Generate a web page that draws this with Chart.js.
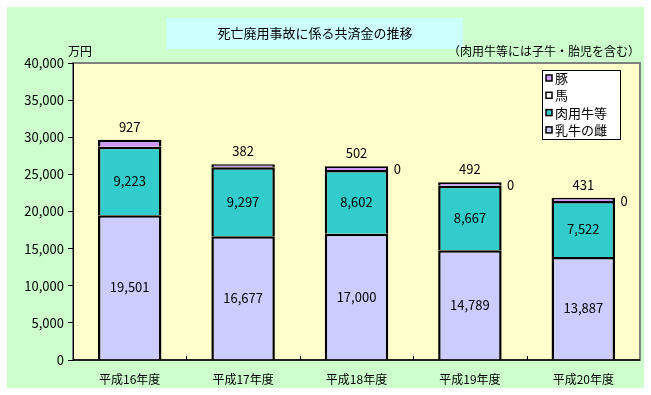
<!DOCTYPE html>
<html>
<head>
<meta charset="utf-8">
<script src="https://cdn.jsdelivr.net/npm/chart.js@4"></script>
<style>
  html, body { margin: 0; padding: 0; background: #ffffff; }
  #wrap { width: 651px; height: 395px; position: relative; }
</style>
</head>
<body>
<div id="wrap"><canvas id="chart" width="651" height="395"></canvas></div>
<script>
// --- data ---
const years = ['平成16年度', '平成17年度', '平成18年度', '平成19年度', '平成20年度'];
const dairyCow = [19501, 16677, 17000, 14789, 13887];   // 乳牛の雌
const beefCattle = [9223, 9297, 8602, 8667, 7522];      // 肉用牛等
const pigs = [927, 382, 502, 492, 431];                 // 豚
const horses = [null, null, 0, 0, 0];                   // 馬
const yTicks = [0, 5000, 10000, 15000, 20000, 25000, 30000, 35000, 40000];

const FONT = '"Noto Sans CJK JP", "DejaVu Sans", sans-serif';
const fmt = v => v.toLocaleString('en-US');

// background, title box, unit notes
const backdrop = {
    id: 'backdrop',
    beforeDraw(chart) {
        const c = chart.ctx;
        const a = chart.chartArea;
        c.save();
        c.fillStyle = '#ccffcc';
        c.fillRect(7, 7, 637, 381);
        c.fillStyle = '#ffffcc';
        c.fillRect(a.left, a.top, a.right - a.left, a.bottom - a.top);
        c.strokeStyle = '#808080';
        c.lineWidth = 2;
        c.strokeRect(a.left, a.top, a.right - a.left, a.bottom - a.top);

        c.fillStyle = '#ccffff';
        c.fillRect(166, 18, 297, 31);
        c.fillStyle = '#000';
        c.font = '13px ' + FONT;
        c.textAlign = 'center';
        c.textBaseline = 'middle';
        c.fillText('死亡廃用事故に係る共済金の推移', 315, 33);

        c.font = '12px ' + FONT;
        c.textAlign = 'left';
        c.fillText('万円', 68, 51);
        c.textAlign = 'right';
        c.fillText('（肉用牛等には子牛・胎児を含む）', 640, 51);
        c.restore();
    },
    afterDraw(chart) {
        const c = chart.ctx;
        const a = chart.chartArea;
        const x = chart.scales.x;
        c.save();
        // axis line
        c.strokeStyle = '#000';
        c.lineWidth = 1.5;
        c.beginPath();
        c.moveTo(a.left, a.bottom);
        c.lineTo(a.right, a.bottom);
        c.stroke();
        // small tick marks between categories
        c.lineWidth = 1;
        for (let i = 0; i < years.length - 1; i++) {
            const px = Math.round((x.getPixelForTick(i) + x.getPixelForTick(i + 1)) / 2) + 0.5;
            c.beginPath();
            c.moveTo(px, a.bottom);
            c.lineTo(px, a.bottom - 4);
            c.stroke();
        }

        // data labels
        c.fillStyle = '#000';
        c.font = '13px ' + FONT;
        c.textAlign = 'center';
        c.textBaseline = 'middle';
        [0, 1].forEach(di => {
            const meta = chart.getDatasetMeta(di);
            meta.data.forEach((bar, i) => {
                const v = chart.data.datasets[di].data[i];
                c.fillText(fmt(v), bar.x, (bar.y + bar.base) / 2);
            });
        });
        const pigMeta = chart.getDatasetMeta(2);
        pigMeta.data.forEach((bar, i) => {
            c.fillText(fmt(pigs[i]), bar.x, bar.y - 13);
        });
        const horseMeta = chart.getDatasetMeta(3);
        horseMeta.data.forEach((bar, i) => {
            if (horses[i] === null) return;
            c.fillText(fmt(horses[i]), bar.x + bar.width / 2 + 9, bar.y + 3);
        });

        // legend box
        c.fillStyle = '#fff';
        c.fillRect(542, 70, 79, 70);
        c.strokeStyle = '#000';
        c.lineWidth = 1;
        c.strokeRect(542.5, 70.5, 78, 69);
        const items = [2, 3, 1, 0].map(i => chart.data.datasets[i]);
        c.font = '13px ' + FONT;
        c.textAlign = 'left';
        items.forEach((ds, k) => {
            const cy = 78 + k * 17.3;
            c.fillStyle = ds.backgroundColor;
            c.fillRect(546, cy - 3, 6, 6);
            c.strokeStyle = '#000';
            c.lineWidth = 1.5;
            c.strokeRect(546, cy - 3, 6, 6);
            c.fillStyle = '#000';
            c.fillText(ds.label, 555, cy);
        });
        c.restore();
    }
};

const common = {
    borderColor: '#000000',
    borderWidth: 2.5,
    borderSkipped: 'start',
    barPercentage: 0.7,
    categoryPercentage: 0.8
};

new Chart(document.getElementById('chart'), {
    type: 'bar',
    data: {
        labels: years,
        datasets: [
            { label: '乳牛の雌', data: dairyCow, backgroundColor: '#ccccff', ...common },
            { label: '肉用牛等', data: beefCattle, backgroundColor: '#33cccc', ...common },
            { label: '豚', data: pigs, backgroundColor: '#cc99ff', ...common },
            { label: '馬', data: horses, backgroundColor: '#ffffff', ...common, borderWidth: 0 }
        ]
    },
    options: {
        responsive: false,
        animation: false,
        layout: { padding: { left: 0, right: 11, top: 63, bottom: 0 } },
        plugins: {
            legend: { display: false },
            tooltip: { enabled: false }
        },
        scales: {
            x: {
                stacked: true,
                grid: { display: false, drawTicks: false },
                border: { display: false },
                ticks: { color: '#000', font: { family: FONT, size: 12 }, padding: 12, maxRotation: 0 },
                afterFit: s => { s.height = 35; }
            },
            y: {
                stacked: true,
                min: 0,
                max: 40000,
                afterBuildTicks: s => { s.ticks = yTicks.map(v => ({ value: v })); },
                grid: { drawOnChartArea: false, color: '#000', tickLength: 5, tickWidth: 1 },
                border: { color: '#000', width: 1 },
                ticks: {
                    color: '#000',
                    font: { family: FONT, size: 13 },
                    padding: 4,
                    callback: v => fmt(v)
                },
                afterFit: s => { s.width = 73; }
            }
        }
    },
    plugins: [backdrop]
});
</script>
</body>
</html>
